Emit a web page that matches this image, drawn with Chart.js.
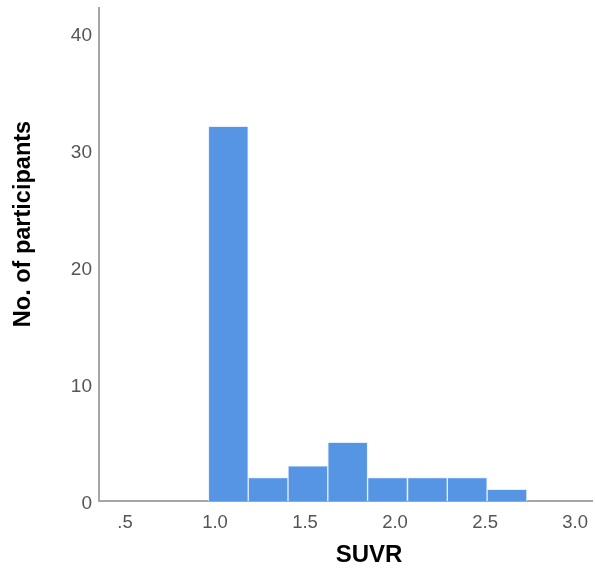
<!DOCTYPE html>
<html>
<head>
<meta charset="utf-8">
<script src="https://cdn.jsdelivr.net/npm/chart.js@4/dist/chart.umd.min.js"></script>
<style>
  html, body { margin: 0; padding: 0; background: #ffffff; }
  #wrap { width: 595px; height: 569px; position: relative; }
</style>
</head>
<body>
<div id="wrap"><canvas id="c"></canvas></div>
<script>
// Histogram bin centres (SUVR) and counts
const binCenters = [1.074, 1.295, 1.516, 1.737, 1.958, 2.180, 2.401, 2.622];
const counts = [32, 2, 3, 5, 2, 2, 2, 1];
const xTicks = [0.5, 1.0, 1.5, 2.0, 2.5, 3.0];
const xTickLabels = ['.5', '1.0', '1.5', '2.0', '2.5', '3.0'];
const yTicks = [0, 10, 20, 30, 40];
const xTitle = 'SUVR';
const yTitle = 'No. of participants';

const titlePlugin = {
  id: 'axisTitles',
  afterDraw(chart) {
    const ctx = chart.ctx;
    const area = chart.chartArea;
    ctx.save();
    ctx.fillStyle = '#000000';
    ctx.textAlign = 'center';
    ctx.textBaseline = 'middle';
    ctx.font = 'bold 24px "Liberation Sans", Arial, sans-serif';
    ctx.fillText(xTitle, area.left + 270, 555);
    ctx.translate(24, 224);
    ctx.rotate(-Math.PI / 2);
    ctx.font = 'bold 23.5px "Liberation Sans", Arial, sans-serif';
    ctx.fillText(yTitle, 0, 0);
    ctx.restore();
  }
};

new Chart(document.getElementById('c'), {
  type: 'bar',
  data: {
    datasets: [{
      data: binCenters.map((x, i) => ({ x: x, y: counts[i] })),
      backgroundColor: '#5595e4',
      borderColor: '#e6eefa',
      borderWidth: 1,
      barPercentage: 1.0,
      categoryPercentage: 1.0
    }]
  },
  options: {
    responsive: true,
    maintainAspectRatio: false,
    animation: false,
    layout: { padding: { top: 8, right: 3, left: 0, bottom: 0 } },
    plugins: { legend: { display: false }, tooltip: { enabled: false } },
    scales: {
      x: {
        type: 'linear',
        min: 0.3556,
        max: 3.094,
        offset: false,
        grid: { display: false, drawTicks: false },
        border: { display: true, color: '#a6a6a6', width: 2 },
        afterBuildTicks: (s) => { s.ticks = xTicks.map(v => ({ value: v })); },
        afterFit: (s) => { s.height = 68; s.paddingLeft = 0; s.paddingRight = 0; },
        ticks: {
          autoSkip: false,
          maxRotation: 0,
          padding: 11,
          color: '#555555',
          font: { family: '"Liberation Sans", Arial, sans-serif', size: 18.5 },
          callback: (v) => { const i = xTicks.indexOf(v); return i >= 0 ? xTickLabels[i] : ''; }
        }
      },
      y: {
        min: 0,
        max: 42.1,
        grid: { display: false, drawTicks: false },
        border: { display: true, color: '#a6a6a6', width: 2 },
        afterBuildTicks: (s) => { s.ticks = yTicks.map(v => ({ value: v })); },
        afterFit: (s) => { s.width = 99; s.paddingTop = 0; s.paddingBottom = 0; },
        ticks: {
          padding: 7,
          labelOffset: 3,
          color: '#555555',
          font: { family: '"Liberation Sans", Arial, sans-serif', size: 19 }
        }
      }
    }
  },
  plugins: [titlePlugin]
});
</script>
</body>
</html>
